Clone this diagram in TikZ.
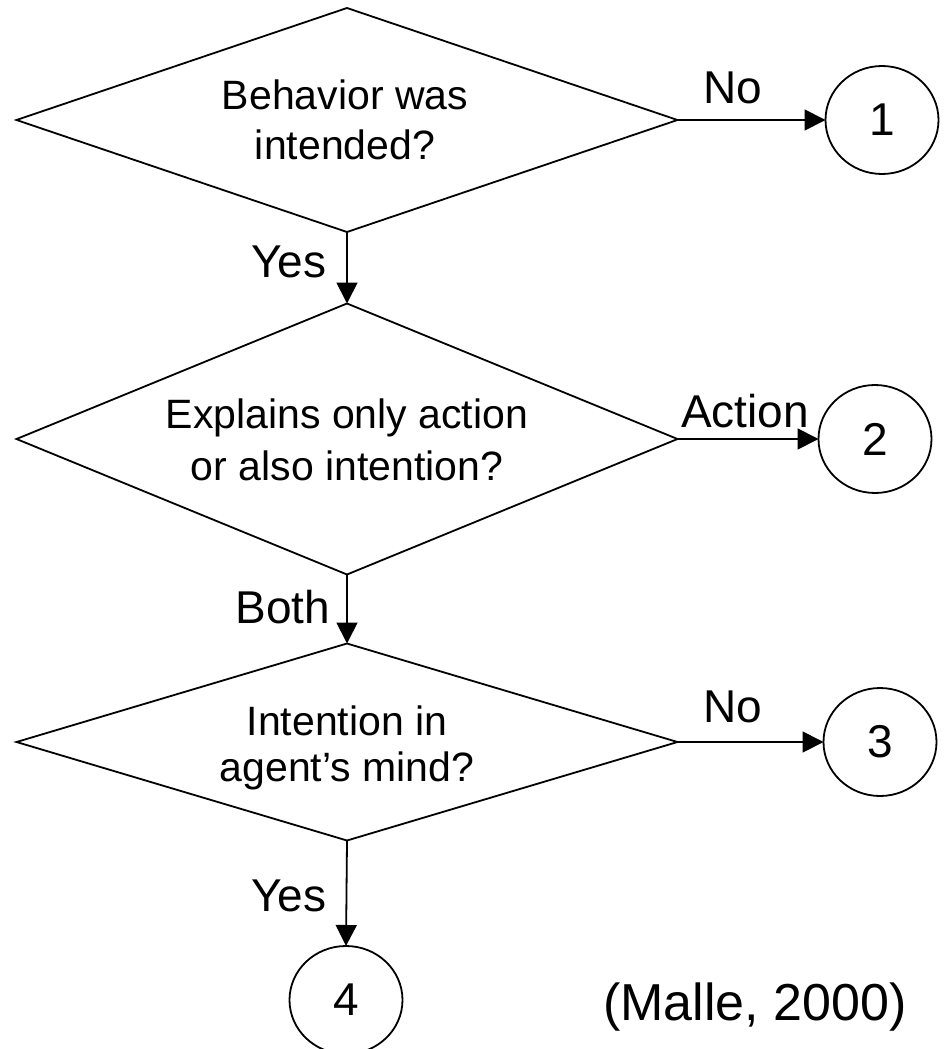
\documentclass[tikz,border=0pt]{standalone}
\usepackage{fontspec}
\setmainfont{Liberation Sans}
\usetikzlibrary{shapes.geometric,arrows.meta}
\begin{document}
\begin{tikzpicture}[x=1pt,y=-1pt,
  dec/.style={draw,diamond,line width=1.8pt,inner sep=0pt,outer sep=0pt,minimum width=661pt},
  term/.style={draw,ellipse,line width=1.8pt,inner sep=0pt,outer sep=0pt,minimum width=113pt,minimum height=108pt,font=\fontsize{46}{50}\selectfont},
  qtext/.style={anchor=base,inner sep=0pt,font=\fontsize{41}{45}\selectfont},
  lab/.style={anchor=base,inner sep=0pt,font=\fontsize{46}{50}\selectfont},
  flow/.style={line width=1.8pt,-{Triangle[length=21pt,width=21pt]}}]
\fill[white] (0,0) rectangle (943,1049);
\useasboundingbox (0,0) rectangle (943,1049);
\clip (0,0) rectangle (943,1049);

% decisions
\node[dec,minimum height=224pt] (D1) at (347,120) {};
\node[dec,minimum height=271pt] (D2) at (347,439) {};
\node[dec,minimum height=197pt] (D3) at (347,742) {};

\node[qtext] (d1a) at (345,109) {Behavior was};
\node[qtext] (d1b) at (345,159) {intended?};
\node[qtext] (d2a) at (347,428) {Explains only action};
\node[qtext] (d2b) at (347,480) {or also intention?};
\node[qtext] (d3a) at (347,735) {Intention in};
\node[qtext] (d3b) at (347,781) {agent’s mind?};

% terminals
\node[term] (C1) at (882,120) {1};
\node[term] (C2) at (875,439) {2};
\node[term] (C3) at (880,742) {3};
\node[term] (C4) at (346,1000) {4};

% connectors
\draw[flow] (D1.east) -- (C1.west);
\draw[flow] (D2.east) -- (C2.west);
\draw[flow] (D3.east) -- (C3.west);
\draw[flow] (D1.south) -- (D2.north);
\draw[flow] (D2.south) -- (D3.north);
\draw[flow] (D3.south) -- (C4.north);

% labels
\node[lab] (l1) at (733,103) {No};
\node[lab] (l2) at (745,427) {Action};
\node[lab] (l3) at (733,722) {No};
\node[lab] (l4) at (289,277) {Yes};
\node[lab] (l5) at (283,623) {Both};
\node[lab] (l6) at (289,911) {Yes};

\node[anchor=base,inner sep=0pt,font=\fontsize{52}{56}\selectfont] (src) at (755,1020) {(Malle, 2000)};
\end{tikzpicture}
\end{document}
